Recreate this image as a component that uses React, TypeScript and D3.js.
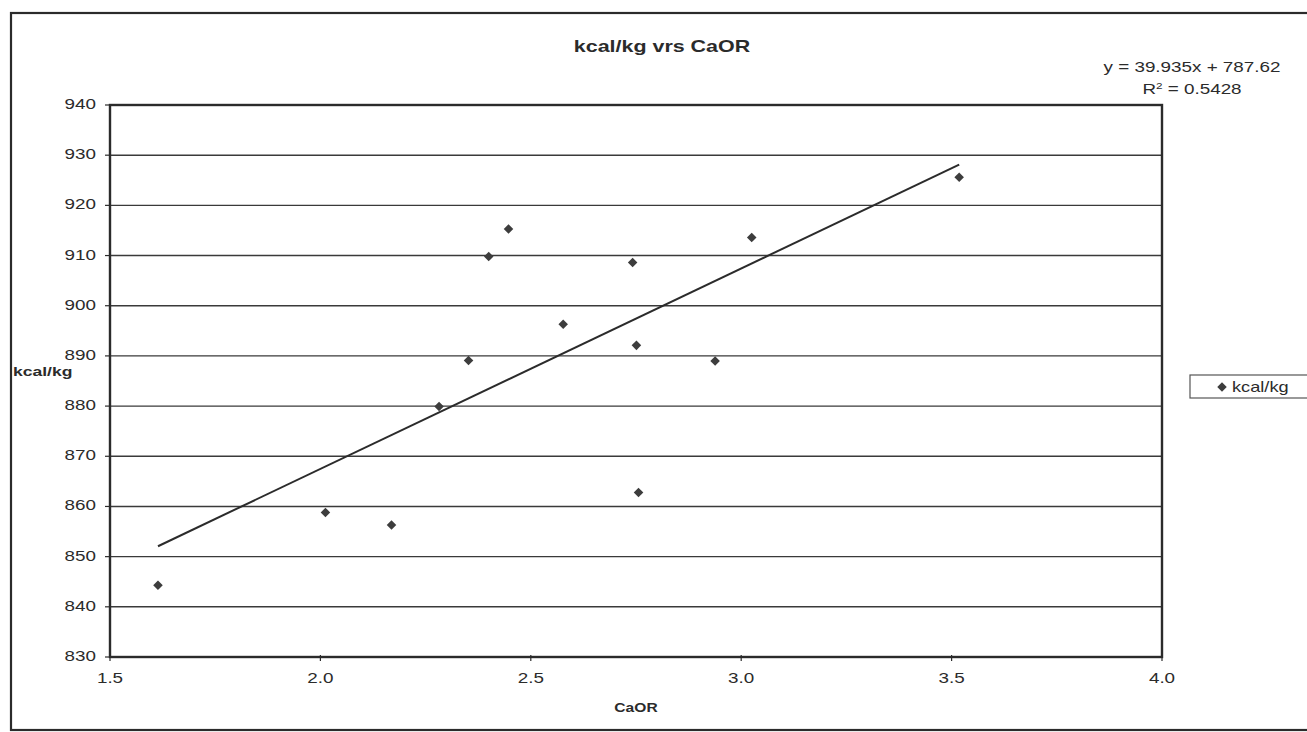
import * as d3 from 'd3';
import React, { useEffect } from 'react';

// CaOR vs kcal/kg readings
const caor = [1.614, 2.012, 2.169, 2.282, 2.352, 2.4, 2.447, 2.577, 2.742, 2.751, 2.756, 2.938, 3.025, 3.518];
const kcal = [844.3, 858.8, 856.3, 879.9, 889.1, 909.8, 915.3, 896.3, 908.6, 892.1, 862.8, 889.0, 913.6, 925.6];

// linear trendline as printed on the chart
const slope = 39.935;
const intercept = 787.62;
const rSquared = 0.5428;

const xTicks = [1.5, 2.0, 2.5, 3.0, 3.5, 4.0];
const yTicks = [830, 840, 850, 860, 870, 880, 890, 900, 910, 920, 930, 940];

const title = 'kcal/kg vrs CaOR';
const xLabel = 'CaOR';
const yLabel = 'kcal/kg';
const seriesName = 'kcal/kg';

const width = 1307;
const height = 732;
const plot = { left: 110, right: 1162, top: 105, bottom: 657 };
// the scan is stretched sideways, so the text is too
const stretch = 1.3;
const font = '"Liberation Sans", Arial, sans-serif';
const ink = '#2b2b2b';

const diamond = d3.symbol().type(d3.symbolDiamond2).size(58);

const Label = (p: {
  x: number;
  y: number;
  text: React.ReactNode;
  size: number;
  anchor?: string;
  bold?: boolean;
}) => (
  <text
    transform={`translate(${p.x},${p.y}) scale(${stretch},1)`}
    textAnchor={p.anchor || 'middle'}
    fontSize={p.size}
    fontWeight={p.bold ? 'bold' : 'normal'}
    fontFamily={font}
    fill={ink}
  >
    {p.text}
  </text>
);

export default function App() {
  useEffect(() => {
    document.body.style.margin = '0';
  }, []);

  const x = d3.scaleLinear().domain([1.5, 4.0]).range([plot.left, plot.right]);
  const y = d3.scaleLinear().domain([830, 940]).range([plot.bottom, plot.top]);

  const xMin = d3.min(caor) as number;
  const xMax = d3.max(caor) as number;
  const trend = d3.line<number>()
    .x((d) => x(d))
    .y((d) => y(slope * d + intercept))([xMin, xMax]);

  return (
    <svg width={width} height={height} style={{ display: 'block', background: '#fff' }}>
      {/* outer chart frame */}
      <rect x={11} y={13} width={1310} height={717} fill="none" stroke={ink} strokeWidth={2.2} />

      <Label x={662} y={52} text={title} size={16.5} bold />

      {/* gridlines */}
      {yTicks.slice(1, -1).map((t) => (
        <line key={t} x1={plot.left} x2={plot.right} y1={y(t)} y2={y(t)} stroke="#3a3a3a" strokeWidth={1.4} />
      ))}

      {/* plot frame */}
      <rect
        x={plot.left}
        y={plot.top}
        width={plot.right - plot.left}
        height={plot.bottom - plot.top}
        fill="none"
        stroke={ink}
        strokeWidth={2.4}
      />

      {/* y axis */}
      {yTicks.map((t) => (
        <g key={t}>
          <line x1={plot.left - 5} x2={plot.left} y1={y(t)} y2={y(t)} stroke={ink} strokeWidth={1.2} />
          <Label x={96} y={y(t) + 4} text={t} size={14.5} anchor="end" />
        </g>
      ))}

      {/* x axis */}
      {xTicks.map((t) => (
        <g key={t}>
          <line x1={x(t)} x2={x(t)} y1={plot.bottom - 2} y2={plot.bottom + 4} stroke={ink} strokeWidth={1.2} />
          <Label x={x(t)} y={683} text={d3.format('.1f')(t)} size={14.5} />
        </g>
      ))}

      <Label x={636} y={712} text={xLabel} size={12} bold />
      <Label x={13} y={376} text={yLabel} size={13.5} anchor="start" bold />

      {/* trendline */}
      <path d={trend || ''} fill="none" stroke={ink} strokeWidth={2} />

      {/* points */}
      {caor.map((c, i) => (
        <path key={i} d={diamond() || ''} transform={`translate(${x(c)},${y(kcal[i])})`} fill="#3d3d3d" />
      ))}

      {/* trendline equation */}
      <Label x={1192} y={72} text={`y = ${slope}x + ${intercept}`} size={14.5} />
      <Label
        x={1192}
        y={94}
        text={
          <>
            R<tspan dy={-5} fontSize={9}>2</tspan>
            <tspan dy={5}>{` = ${rSquared}`}</tspan>
          </>
        }
        size={14.5}
      />

      {/* legend */}
      <rect x={1190} y={375} width={130} height={23} fill="#fff" stroke="#555" strokeWidth={1.2} />
      <path d={diamond() || ''} transform="translate(1222,387)" fill="#3d3d3d" />
      <Label x={1232} y={392} text={seriesName} size={14} anchor="start" />
    </svg>
  );
}
